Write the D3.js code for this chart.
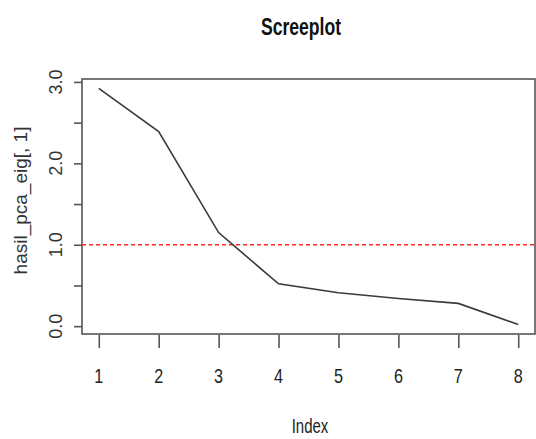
<!DOCTYPE html>
<html>
<head>
<meta charset="utf-8">
<script src="https://cdn.jsdelivr.net/npm/d3@7"></script>
<style>
body { margin: 0; background: #fff; }
svg { display: block; }
</style>
</head>
<body>
<div id="chart"></div>
<script>
// eigenvalues
var idx = [1, 2, 3, 4, 5, 6, 7, 8];
var eig = [2.92, 2.39, 1.15, 0.52, 0.41, 0.34, 0.28, 0.02];
var yTicks = [0, 0.5, 1, 1.5, 2, 2.5, 3];
var yLabels = [0, 1, 2, 3];
var cutoff = 1;

var svgWidth = 536, svgHeight = 439;
var margin = {top: 79, right: 1, bottom: 105, left: 82};
var width = svgWidth - margin.left - margin.right;
var height = svgHeight - margin.top - margin.bottom;

var svg = d3.select("#chart").append("svg")
    .attr("width", svgWidth)
    .attr("height", svgHeight);

var g = svg.append("g")
    .attr("transform", `translate(${margin.left}, ${margin.top})`);

// R style 4% padding on both scales
var xPad = (d3.max(idx) - d3.min(idx)) * 0.04;
var yPad = (d3.max(eig) - d3.min(eig)) * 0.04;
var x = d3.scaleLinear()
    .domain([d3.min(idx) - xPad, d3.max(idx) + xPad])
    .range([0, width]);
var y = d3.scaleLinear()
    .domain([d3.min(eig) - yPad, d3.max(eig) + yPad])
    .range([height, 0]);

var fontR = "'Liberation Sans', Arial, sans-serif";

// x axis
var xAxis = g.append("g")
    .attr("transform", `translate(0, ${height + 1})`)
    .call(d3.axisBottom(x).tickValues(idx).tickSize(13).tickFormat(""));
xAxis.select(".domain").remove();
xAxis.selectAll("line").attr("stroke", "#555").attr("stroke-width", 1.6);

// x tick labels, slightly condensed like the original
g.selectAll(".xlab")
    .data(idx)
    .enter()
    .append("text")
    .attr("class", "xlab")
    .attr("transform", d => `translate(${x(d)}, ${height + 49}) scale(0.9, 1.1)`)
    .attr("text-anchor", "middle")
    .attr("fill", "#222")
    .style("font-family", fontR)
    .style("font-size", "18px")
    .text(d => d);

// y axis
var yAxis = g.append("g")
    .call(d3.axisLeft(y).tickValues(yTicks).tickSize(8).tickFormat(""));
yAxis.select(".domain").remove();
yAxis.selectAll("line").attr("stroke", "#555").attr("stroke-width", 1.6);

g.selectAll(".ylab")
    .data(yLabels)
    .enter()
    .append("text")
    .attr("class", "ylab")
    .attr("transform", d => `translate(-20, ${y(d)}) rotate(-90)`)
    .attr("text-anchor", "middle")
    .attr("fill", "#333")
    .style("font-family", fontR)
    .style("font-size", "18px")
    .text(d => d3.format(".1f")(d));

// box
g.append("rect")
    .attr("x", 0)
    .attr("y", 0)
    .attr("width", width)
    .attr("height", height)
    .attr("fill", "none")
    .attr("stroke", "#555")
    .attr("stroke-width", 1.6);

// cutoff line
g.append("line")
    .attr("x1", 0)
    .attr("x2", width)
    .attr("y1", y(cutoff))
    .attr("y2", y(cutoff))
    .attr("stroke", "#ff2a2a")
    .attr("stroke-width", 1.6)
    .attr("stroke-dasharray", "4,3");

// scree line
var line = d3.line()
    .x((d, i) => x(idx[i]))
    .y(d => y(d));
g.append("path")
    .datum(eig)
    .attr("d", line)
    .attr("fill", "none")
    .attr("stroke", "#3a3a3a")
    .attr("stroke-width", 1.6);

// title (condensed bold)
svg.append("text")
    .attr("transform", "translate(301, 35) scale(0.8, 1.05)")
    .attr("text-anchor", "middle")
    .attr("fill", "#111")
    .style("font-family", fontR)
    .style("font-weight", "bold")
    .style("font-size", "22px")
    .text("Screeplot");

// axis titles
svg.append("text")
    .attr("transform", "translate(310, 433) scale(0.75, 1.05)")
    .attr("text-anchor", "middle")
    .attr("fill", "#222")
    .style("font-family", fontR)
    .style("font-size", "20px")
    .text("Index");

svg.append("text")
    .attr("transform", `translate(27, ${margin.top + height / 2 - 6}) rotate(-90)`)
    .attr("text-anchor", "middle")
    .attr("fill", "#333")
    .style("font-family", fontR)
    .style("font-size", "19px")
    .text("hasil_pca_eig[, 1]");
</script>
</body>
</html>
